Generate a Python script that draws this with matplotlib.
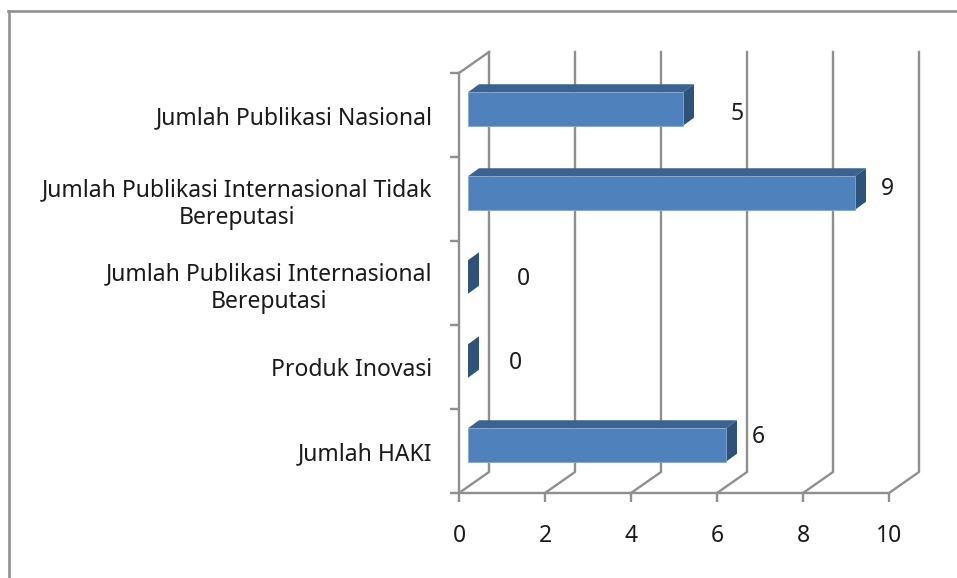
import matplotlib
matplotlib.use('Agg')
import matplotlib.pyplot as plt
from matplotlib.lines import Line2D
from matplotlib.patches import Polygon

plt.rcParams['font.family'] = ['Noto Sans', 'DejaVu Sans']

# data, top to bottom
categories = ['Jumlah Publikasi Nasional',
              'Jumlah Publikasi Internasional Tidak\nBereputasi',
              'Jumlah Publikasi Internasional\nBereputasi',
              'Produk Inovasi',
              'Jumlah HAKI']
values = [5, 9, 0, 0, 6]
xticks = [0, 2, 4, 6, 8, 10]

# label nudges in pixels from the bar end, y down (the labels sit by hand in the original)
label_dx = [54, 32, 55, 47, 32]
label_dy = [5, -4, 2, 2, -8]

W, H = 957, 578
grey = '#8f8f8f'
fig = plt.figure(figsize=(W / 100, H / 100), dpi=100)
ax = fig.add_axes([459 / W, 1 - 493 / H, 430 / W, 420 / H])
ax.set_xlim(0, 10)
ax.set_ylim(5, 0)

px = 10 / 430  # one pixel in x units
py = 5 / 420   # one pixel in y units
wall_dx, wall_dy = 30 * px, 21 * py

# outer frame
fig.add_artist(Line2D([8.5 / W, 8.5 / W], [0, 1 - 11 / H], color=grey, lw=1.9))
fig.add_artist(Line2D([8 / W, 1], [1 - 11 / H, 1 - 11 / H], color=grey, lw=1.9))

# back wall gridlines and floor lines
for x in xticks:
    ax.plot([x, x + wall_dx, x + wall_dx], [5, 5 - wall_dy, -wall_dy],
            color=grey, lw=1.7, clip_on=False, zorder=1, solid_joinstyle='miter')
ax.plot([0, wall_dx], [0, -wall_dy], color=grey, lw=1.7, clip_on=False, zorder=1)

# 3d bars
bar_x0 = 9 * px
bar_h = 33.5 * py
top_dx, top_dy = 11 * px, 8 * py
for i, v in enumerate(values):
    yc = i + 0.5 - 6 * py
    y0, y1 = yc - bar_h / 2, yc + bar_h / 2
    x1 = bar_x0 + v
    ax.add_patch(Polygon([(bar_x0, y0), (bar_x0 + top_dx, y0 - top_dy),
                          (x1 + top_dx, y0 - top_dy), (x1, y0)],
                         fc='#3b6391', ec='none', zorder=3))
    ax.add_patch(Polygon([(x1, y0), (x1 + top_dx, y0 - top_dy),
                          (x1 + top_dx, y1 - top_dy), (x1, y1)],
                         fc='#2f5279', ec='none', zorder=3))
    if v > 0:
        ax.barh(yc, v, left=bar_x0, height=bar_h, color='#4f81bd',
                edgecolor='#86a8d2', linewidth=0.6, zorder=4)
    ax.annotate(str(v), (x1, yc), xytext=(label_dx[i] * 0.72, -label_dy[i] * 0.72),
                textcoords='offset points', ha='center', va='center',
                fontsize=16.5, color='#1a1a1a', zorder=5, annotation_clip=False)

# axes
for s in ['top', 'right']:
    ax.spines[s].set_visible(False)
for s in ['left', 'bottom']:
    ax.spines[s].set_color(grey)
    ax.spines[s].set_linewidth(1.7)
    ax.spines[s].set_zorder(2)
ax.set_xticks(xticks)
ax.set_xticklabels([str(x) for x in xticks], fontsize=16.5, color='#1a1a1a')
ax.tick_params(axis='x', length=6.5, width=1.7, color=grey, pad=15.5)
ax.set_yticks(range(6))
ax.set_yticklabels([])
ax.tick_params(axis='y', which='major', length=6.5, width=1.7, color=grey)
ax.set_yticks([i + 0.5 for i in range(5)], minor=True)
ax.set_yticklabels(categories, minor=True, fontsize=16.5, color='#1a1a1a',
                   multialignment='center', linespacing=1.25)
ax.tick_params(axis='y', which='minor', length=0, pad=19)

fig.savefig('out.png', dpi=100, facecolor='white')
